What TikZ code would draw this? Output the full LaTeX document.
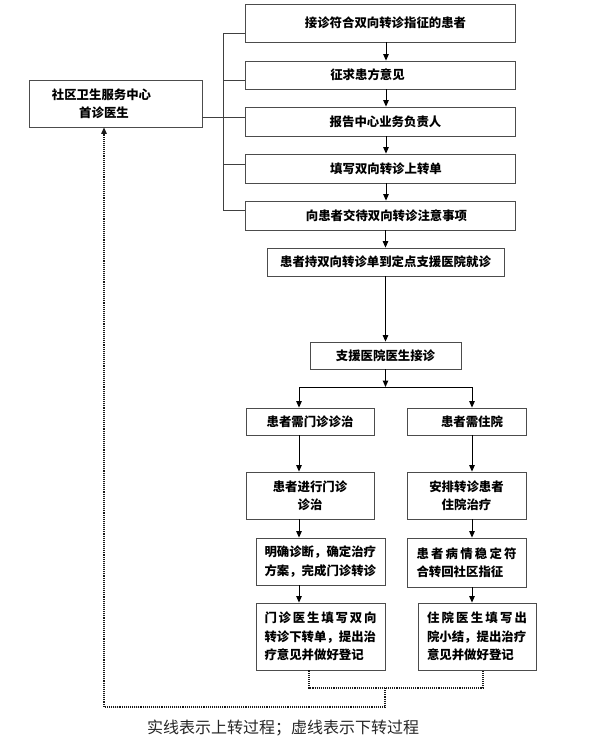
\documentclass[tikz,border=0pt]{standalone}
\usepackage{fontspec}
\newfontfamily\cjk{Noto Sans CJK SC}
\usetikzlibrary{arrows.meta}

\begin{document}
\begin{tikzpicture}[x=1pt,y=-1pt,
  stepbox/.style={draw=black!70,line width=0.8pt,inner sep=2pt,align=center,
    font=\cjk\bfseries\fontsize{12.4}{18.5}\selectfont},
  parbox/.style={stepbox,align=left},
  link/.style={draw=black!75,line width=0.8pt},
  flow/.style={draw=black,line width=1pt,-{Triangle[width=5.5pt,length=6.5pt]}},
  back/.style={draw=black!90,line width=1.1pt,densely dotted}]
\useasboundingbox (0,0) rectangle (589,750);

% community centre and the upward steps
\node[stepbox,minimum width=173,minimum height=47] (cmain) at (115.5,103.5)
  {社区卫生服务中心\hspace*{28pt}\\首诊医生\hspace*{23pt}};
\node[stepbox,minimum width=270,minimum height=38] (b1) at (380,23)
  {\hspace*{11pt}接诊符合双向转诊指征的患者};
\node[stepbox,minimum width=270,minimum height=28] (b2) at (380,75)
  {征求患方意见\hspace*{25pt}};
\node[stepbox,minimum width=270,minimum height=29] (b3) at (380,121.5)
  {\hspace*{11pt}报告中心业务负责人};
\node[stepbox,minimum width=270,minimum height=29] (b4) at (380,168.5)
  {\hspace*{12pt}填写双向转诊上转单};
\node[stepbox,minimum width=270,minimum height=29] (b5) at (380,215.5)
  {\hspace*{13pt}向患者交待双向转诊注意事项};
\node[stepbox,minimum width=237,minimum height=28] (b6) at (385.5,262)
  {患者持双向转诊单到定点支援医院就诊};
\node[stepbox,minimum width=151,minimum height=27] (b7) at (385.5,355.5)
  {支援医院医生接诊};

% two branches in the supporting hospital
\node[stepbox,minimum width=128,minimum height=27] (b8) at (310,421.5)
  {患者需门诊诊治};
\node[stepbox,minimum width=119,minimum height=27] (b9) at (466.5,421.5)
  {\hspace*{11pt}患者需住院};
\node[stepbox,minimum width=128,minimum height=47] (b10) at (310,495.5)
  {患者进行门诊\\诊治};
\node[stepbox,minimum width=119,minimum height=47] (b11) at (466.5,495.5)
  {安排转诊患者\\住院治疗};
\node[parbox,text width=112,minimum width=129,minimum height=47] (b12) at (320.5,561.5)
  {明确诊断，确定治疗\\方案，完成门诊转诊};
\node[parbox,text width=100,minimum width=119,minimum height=49] (b13) at (466.5,562.5)
  {\makebox[100pt]{患\hfill 者\hfill 病\hfill 情\hfill 稳\hfill 定\hfill 符}\\合转回社区指征};
\node[parbox,text width=112,minimum width=129,minimum height=67] (b14) at (320.5,636.5)
  {\makebox[112pt]{门\hfill 诊\hfill 医\hfill 生\hfill 填\hfill 写\hfill 双\hfill 向}\\转诊下转单，提出治\\疗意见并做好登记};
\node[parbox,text width=100,minimum width=118,minimum height=67] (b15) at (477,636.5)
  {\makebox[100pt]{住\hfill 院\hfill 医\hfill 生\hfill 填\hfill 写\hfill 出}\\院小结，提出治疗\\意见并做好登记};

\node[font=\cjk\fontsize{16}{18}\selectfont,text=black!85] (note) at (283,728)
  {实线表示上转过程；虚线表示下转过程};

% helper points
\coordinate (brk) at (223,0);
\coordinate (lcol) at (299,0);
\coordinate (rcol) at (472,0);
\coordinate (split) at (385.5,387);
\coordinate (dmid) at (385,688);
\coordinate (dlow) at (385,707);
\coordinate (s1) at ([yshift=-10]b1.west);
\coordinate (s2) at ([yshift=-5]b2.west);
\coordinate (s3) at ([yshift=4.5]b3.west);
\coordinate (s4) at ([yshift=4.5]b4.west);
\coordinate (s5) at ([yshift=5.5]b5.west);

% bracket from the centre
\draw[link] (s1) -- (s1 -| brk) -- (s5 -| brk) -- (s5);
\draw[link] (s2) -- (s2 -| brk);
\draw[link] (s4) -- (s4 -| brk);
\draw[link] (s3 -| cmain.east) -- (s3);

% solid arrows: referral upward
\foreach \a/\b in {b1/b2,b2/b3,b3/b4,b4/b5}
  \draw[flow] ([xshift=6]\a.south) -- ([xshift=6]\b.north);
\draw[flow] (b5.south -| b6.north) -- (b6.north);
\draw[flow] (b6) -- (b7);
\draw[flow] (b7) -- (split);
\draw[line width=1pt] (split -| lcol) -- (split -| rcol);
\draw[flow] (split -| lcol) -- (b8.north -| lcol);
\draw[flow] (split -| rcol) -- (b9.north -| rcol);
\foreach \a/\b in {b8/b10,b10/b12,b12/b14}
  \draw[flow] (\a.south -| lcol) -- (\b.north -| lcol);
\foreach \a/\b in {b9/b11,b11/b13,b13/b15}
  \draw[flow] (\a.south -| rcol) -- (\b.north -| rcol);

% dotted: referral back down
\draw[back] ([xshift=-11.5]b14.south) |- (dmid) -| ([xshift=6]b15.south);
\draw[back,-{Triangle[width=5.5pt,length=6.5pt]}] (dmid) -- (dlow) -| ([xshift=-11.5]cmain.south);
\end{tikzpicture}
\end{document}
